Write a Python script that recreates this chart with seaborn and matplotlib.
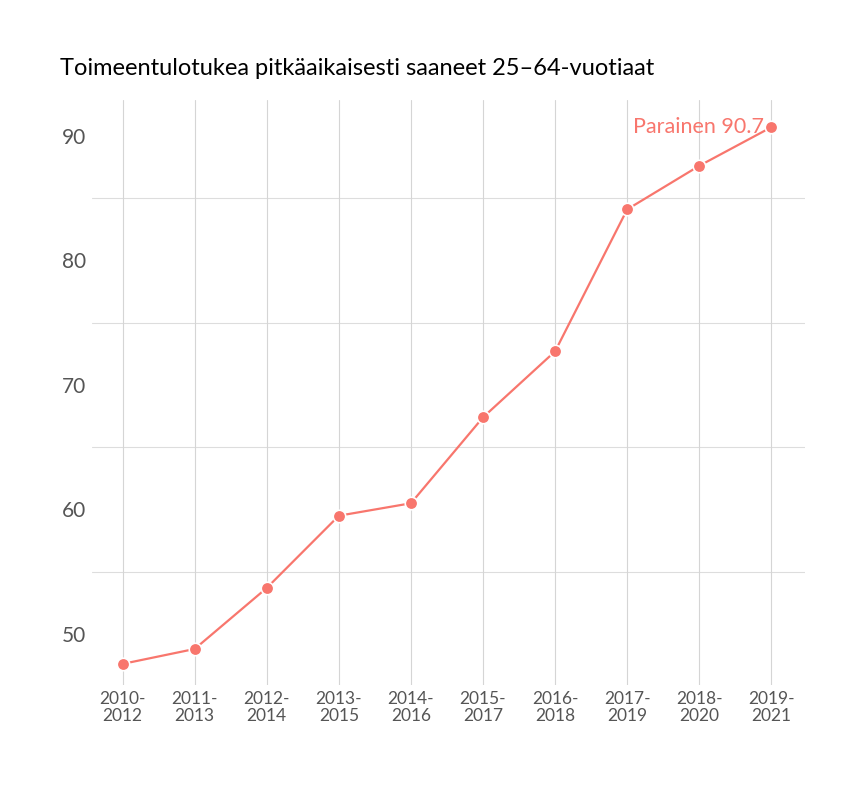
import matplotlib
matplotlib.use("Agg")
import matplotlib.pyplot as plt
import seaborn as sns
import pandas as pd

# Data
periods = ["2010-\n2012", "2011-\n2013", "2012-\n2014", "2013-\n2015", "2014-\n2016",
           "2015-\n2017", "2016-\n2018", "2017-\n2019", "2018-\n2020", "2019-\n2021"]
values = [47.6, 48.8, 53.7, 59.5, 60.5, 67.4, 72.7, 84.1, 87.6, 90.7]
area = "Parainen"

df = pd.DataFrame({"x": range(len(periods)), "value": values})

sns.set_theme(style="white")
plt.rcParams["font.family"] = ["Lato", "DejaVu Sans"]

fig = plt.figure(figsize=(8.64, 7.92), dpi=100)
ax = fig.add_axes([0.106, 0.135, 0.826, 0.739])

color = "#f8766d"
sns.lineplot(data=df, x="x", y="value", color=color, lw=1.6, ax=ax,
             marker="o", markersize=9, markeredgecolor="white", markeredgewidth=1.2)

ax.set_xlim(-0.43, 9.47)
ax.set_ylim(45.9, 92.9)
ax.set_xticks(range(len(periods)))
ax.set_xticklabels(periods, fontsize=12.5, color="#555555", linespacing=1.1)
ax.set_yticks([50, 60, 70, 80, 90])
ax.set_yticklabels(["50", "60", "70", "80", "90"], fontsize=15, color="#555555")
ax.grid(False)
for y in [55, 65, 75, 85]:
    ax.axhline(y, color="#dddddd", lw=0.8, zorder=0)
for x in range(len(periods)):
    ax.axvline(x, color="#d5d5d5", lw=0.8, zorder=0)
ax.tick_params(axis="both", length=0, pad=4)
for s in ax.spines.values():
    s.set_visible(False)
ax.set_xlabel("")
ax.set_ylabel("")

ax.text(9 - 0.1, values[-1], f"{area} {values[-1]}", color=color, fontsize=15.5,
        ha="right", va="center")

fig.text(0.07, 0.905, "Toimeentulotukea pitkäaikaisesti saaneet 25–64-vuotiaat",
         fontsize=17, color="black")

fig.savefig("out.png", dpi=100, facecolor="white")
